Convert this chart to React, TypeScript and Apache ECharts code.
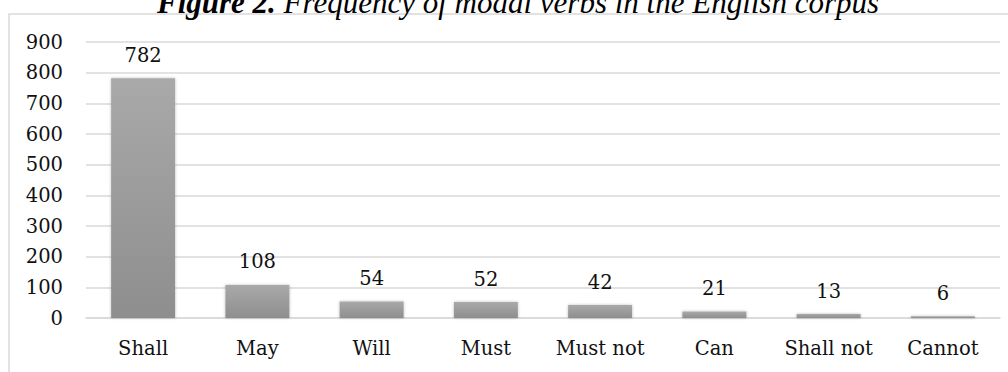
import React, { useEffect, useRef } from "react";
import * as echarts from "echarts";

const categories = ["Shall", "May", "Will", "Must", "Must not", "Can", "Shall not", "Cannot"];
const frequencies = [782, 108, 54, 52, 42, 21, 13, 6];
const yTicks = [0, 100, 200, 300, 400, 500, 600, 700, 800, 900];

const FONT = "DejaVu Serif";

export default function App() {
  const ref = useRef<HTMLDivElement>(null);
  useEffect(() => {
    if (!ref.current) return;
    const chart = echarts.init(ref.current, null, { renderer: "svg" });
    chart.setOption({
      animation: false,
      backgroundColor: "#ffffff",
      graphic: [
        {
          type: "rect",
          shape: { x: 9, y: 14, width: 1010, height: 370 },
          style: { fill: "none", stroke: "#d9d9d9", lineWidth: 1.5 },
          silent: true,
        },
        {
          type: "text",
          x: 518,
          y: 2,
          style: {
            text: "{b|Figure 2.}{i| Frequency of modal verbs in the English corpus}",
            align: "center",
            verticalAlign: "middle",
            rich: {
              b: { fontFamily: "Liberation Serif", fontStyle: "italic", fontWeight: "bold", fontSize: 31, fill: "#000" },
              i: { fontFamily: "Liberation Serif", fontStyle: "italic", fontSize: 31, fill: "#000" },
            },
          },
        },
      ],
      grid: { left: 86, right: 8, top: 42, bottom: 54, containLabel: false },
      xAxis: {
        type: "category",
        data: categories,
        axisLine: { show: true, lineStyle: { color: "#d9d9d9", width: 1.5 } },
        axisTick: { show: false },
        axisLabel: { color: "#111", fontFamily: FONT, fontSize: 19.5, margin: 20, interval: 0, hideOverlap: false },
      },
      yAxis: {
        type: "value",
        min: yTicks[0],
        max: yTicks[yTicks.length - 1],
        interval: 100,
        axisLine: { show: false },
        axisTick: { show: false },
        splitLine: { lineStyle: { color: "#d9d9d9", width: 1.5 } },
        axisLabel: { color: "#111", fontFamily: FONT, fontSize: 19.5, margin: 23 },
      },
      series: [
        {
          type: "bar",
          data: frequencies,
          barWidth: "56%",
          itemStyle: {
            color: new echarts.graphic.LinearGradient(0, 0, 0, 1, [
              { offset: 0, color: "#a9a9a9" },
              { offset: 1, color: "#8e8e8e" },
            ]),
            shadowColor: "rgba(0,0,0,0.25)",
            shadowBlur: 3,
          },
          label: {
            show: true,
            position: "top",
            distance: 13,
            color: "#111",
            fontFamily: FONT,
            fontSize: 19.5,
          },
        },
      ],
    });
    return () => chart.dispose();
  }, []);
  return (
    <div
      ref={ref}
      style={{ position: "fixed", left: 0, top: 0, width: 1008, height: 372, background: "#fff" }}
    />
  );
}
